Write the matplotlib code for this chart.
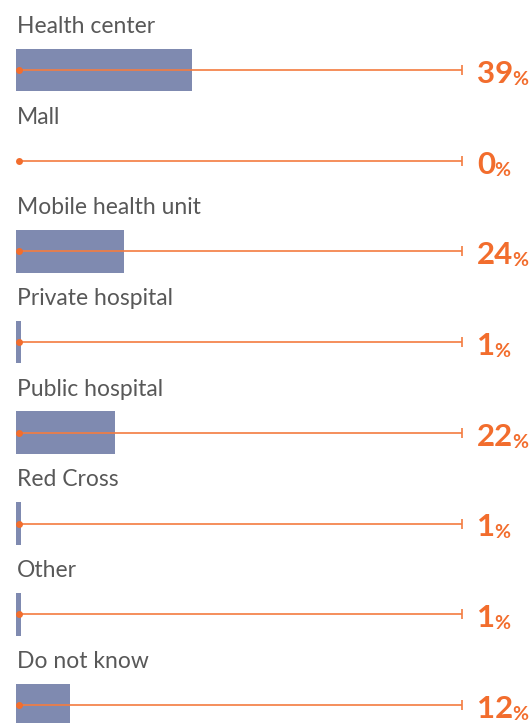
import matplotlib
matplotlib.use("Agg")
import matplotlib.pyplot as plt
from matplotlib import font_manager

categories = ["Health center", "Mall", "Mobile health unit", "Private hospital",
              "Public hospital", "Red Cross", "Other", "Do not know"]
values = [39, 0, 24, 1, 22, 1, 1, 12]

BAR = "#7f8ab0"
ORANGE = "#f26d2d"
LINE = "#f47c40"
TEXT = "#585858"

W, H = 530, 723
fig = plt.figure(figsize=(W / 100, H / 100), dpi=100)
ax = fig.add_axes([0, 0, 1, 1])
px_per_pct = 4.5
x0 = 16
row0 = 70
row_h = 90.7
ax.set_xlim(-x0 / px_per_pct, (W - x0) / px_per_pct)
ax.set_ylim((H - row0) / row_h, -row0 / row_h)
ax.axis("off")

names = [f.name for f in font_manager.fontManager.ttflist]
label_font = "Lato" if "Lato" in names else "DejaVu Sans"

for i, (cat, v) in enumerate(zip(categories, values)):
    ax.barh(i, v, height=0.47, color=BAR, left=0, zorder=1)
    ax.plot([0.7, 99.2], [i, i], color=LINE, lw=1.2, zorder=2, solid_capstyle="butt")
    ax.plot([0.7], [i], marker="o", ms=5, color=ORANGE, zorder=3, mec="none")
    ax.plot([99.2], [i], marker="|", ms=7, mew=1.2, color=LINE, zorder=3)
    ax.text(0.2, i - 0.41, cat, fontsize=16.5, family=label_font, fontweight="normal",
            color=TEXT, ha="left", va="baseline")
    t = ax.text(102.5, i + 0.143, f"{v}", fontsize=22.5, family=label_font,
                fontweight="bold", color=ORANGE, ha="left", va="baseline")
    ax.annotate("%", xycoords=t, xy=(1, 0), xytext=(-1, 0), textcoords="offset points",
                fontsize=14, family=label_font, fontweight="bold", color=ORANGE,
                ha="left", va="bottom")

fig.savefig("out.png", dpi=100)
